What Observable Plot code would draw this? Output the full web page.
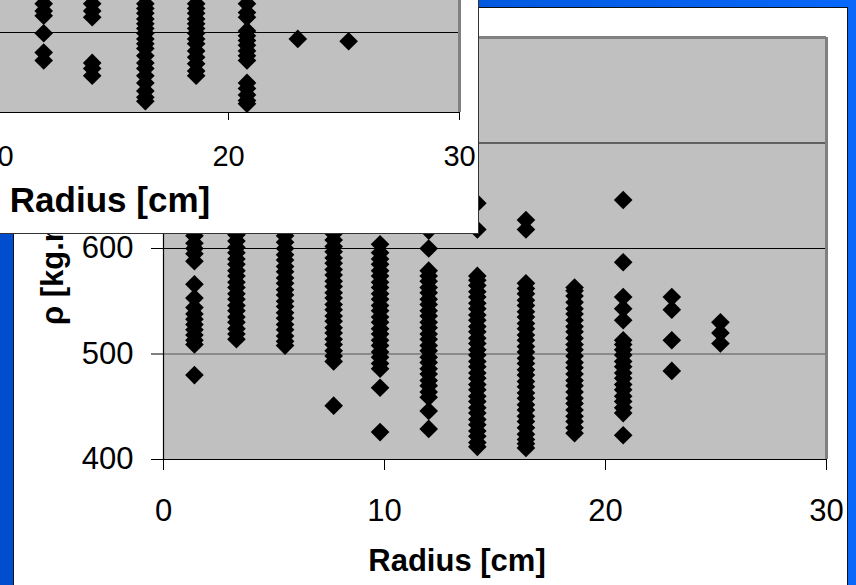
<!DOCTYPE html>
<html><head><meta charset="utf-8">
<script src="https://cdn.jsdelivr.net/npm/d3@7"></script>
<script src="https://cdn.jsdelivr.net/npm/@observablehq/plot@0.6"></script>
<style>
html,body{margin:0;padding:0;}
body{width:856px;height:585px;overflow:hidden;position:relative;background:linear-gradient(90deg,#004ecf 0%,#0057dc 50%,#0868fa 100%);font-family:"Liberation Sans",Arial,sans-serif;}
#panel{position:absolute;left:13px;top:7px;width:833px;height:600px;background:#fff;border:1px solid #111;box-sizing:content-box;}
#main{position:absolute;left:0;top:0;}
#inset{position:absolute;left:-300px;top:-160px;width:778px;height:393px;background:#fff;border-right:1px solid #333;border-bottom:1px solid #333;}
svg{overflow:visible;}
</style>
</head><body>
<div id="panel"></div>
<div id="main"></div>
<div id="inset"></div>
<script>
// ---- main chart: radius positions (cm) ----
const radius = [1.4, 3.3, 5.5, 7.7, 9.8, 12.0, 14.2, 16.4, 18.6, 20.8, 23.0, 25.2];
// density values (kg/m3) per radius
const rhoR01 = [480, 509, 513, 518, 523, 528, 533, 538, 544, 553, 566, 588, 595, 600, 605, 612, 620, 628];
const rhoR03 = [514, 519, 524, 530, 535, 541, 546, 552, 557, 563, 568, 574, 579, 585, 590, 596, 601, 607, 613, 620, 628, 636];
const rhoR05 = [508, 512, 517, 523, 528, 534, 539, 545, 550, 556, 561, 567, 572, 578, 583, 589, 594, 600, 606, 612, 619, 627, 635];
const rhoR08 = [451, 493, 498, 503, 509, 514, 520, 525, 531, 536, 542, 547, 553, 558, 564, 569, 575, 580, 586, 591, 597, 602, 608, 614, 621, 630, 640];
const rhoR10 = [426, 468, 486, 491, 497, 502, 508, 513, 519, 524, 530, 535, 541, 546, 552, 557, 563, 568, 574, 579, 585, 590, 596, 604];
const rhoR12 = [429, 446, 459, 464, 470, 475, 481, 486, 492, 497, 503, 508, 514, 519, 525, 530, 536, 541, 547, 552, 558, 563, 569, 574, 579, 600, 617];
const rhoR14 = [412, 416, 422, 427, 433, 438, 444, 449, 455, 460, 466, 471, 477, 482, 488, 493, 499, 504, 510, 515, 521, 526, 532, 537, 543, 548, 554, 559, 565, 570, 574, 618, 643];
const rhoR16 = [411, 415, 419, 424, 430, 436, 441, 447, 452, 458, 463, 469, 474, 480, 485, 491, 496, 502, 507, 513, 518, 524, 529, 535, 540, 546, 551, 557, 562, 567, 618, 627];
const rhoR19 = [425, 430, 436, 441, 447, 453, 458, 464, 470, 475, 481, 487, 492, 498, 504, 509, 515, 521, 526, 532, 538, 543, 549, 555, 560, 563];
const rhoR21 = [423, 444, 449, 455, 460, 466, 471, 477, 482, 488, 493, 499, 504, 509, 513, 532, 543, 554, 587, 646];
const rhoR23 = [484, 513, 542, 554];
const rhoR25 = [510, 520, 530];
const mainColumns = [rhoR01, rhoR03, rhoR05, rhoR08, rhoR10, rhoR12, rhoR14, rhoR16, rhoR19, rhoR21, rhoR23, rhoR25];
const yTicks = [400, 500, 600, 700, 800];
const xTicks = [0, 10, 20, 30];

// ---- inset chart (partly visible) ----
const insetRadius = [12.0, 14.1, 16.4, 18.6, 20.8, 23.0, 25.2];
const inR12 = [565, 552, 536, 527, 521, 499, 475, 465];
const inR14 = [559, 546, 536, 527, 519, 462, 455, 446];
const inR16 = [565, 555, 546, 536, 530, 524, 517, 511, 505, 499, 492, 486, 480, 471, 462, 455, 446, 437, 427, 419, 414];
const inR19 = [565, 555, 546, 536, 530, 524, 517, 511, 505, 499, 492, 486, 477, 469, 461, 452, 446];
const inR21 = [559, 546, 536, 525, 519, 502, 496, 490, 484, 477, 471, 465, 437, 430, 422, 415, 411];
const inR23 = [492];
const inR25 = [489];
const insetColumns = [inR12, inR14, inR16, inR19, inR21, inR23, inR25];

const mainData = radius.flatMap((r, i) => mainColumns[i].map(v => ({r, rho: v})));
const insetData = insetRadius.flatMap((r, i) => insetColumns[i].map(v => ({r, rho: v})));

const font = '"Liberation Sans", Arial, sans-serif';

const main = Plot.plot({
  width: 856, height: 585,
  marginLeft: 163, marginRight: 30, marginTop: 37, marginBottom: 126,
  x: {domain: [0, 30]},
  y: {domain: [400, 800]},
  style: {background: "transparent", fontFamily: font, color: "black", overflow: "visible"},
  marks: [
    Plot.frame({fill: "#c0c0c0"}),
    Plot.ruleY([600, 700], {stroke: "#000", strokeWidth: 1}),
    Plot.ruleY([500], {stroke: "#555", strokeWidth: 1}),
    Plot.ruleY([800], {stroke: "#808080", strokeWidth: 3}),
    Plot.ruleX([30], {stroke: "#808080", strokeWidth: 3}),
    Plot.dot(mainData, {x: "r", y: "rho", symbol: "diamond2", r: 8.4, fill: "black", stroke: null}),
    Plot.ruleX([0], {stroke: "#000", strokeWidth: 1.2}),
    Plot.ruleY([400], {stroke: "#000", strokeWidth: 1.2}),
    Plot.axisY({ticks: yTicks, tickSize: 12, tickPadding: 18, fontSize: 31, label: null, tickFormat: d => String(d)}),
    Plot.axisX({ticks: xTicks, tickSize: 11, tickPadding: 28, fontSize: 31, label: null, tickFormat: d => String(d)}),
    Plot.text(["Radius [cm]"], {text: d => d, frameAnchor: "bottom", dx: -38, dy: 89, textAnchor: "middle", lineAnchor: "top", fontSize: 31, fontWeight: "bold"}),
    Plot.text(["ρ [kg.m⁻³]"], {text: d => d, frameAnchor: "left", rotate: -90, dx: -110, dy: 6, textAnchor: "middle", lineAnchor: "middle", fontSize: 31, fontWeight: "bold"})
  ]
});
document.getElementById("main").appendChild(main);

const inset = Plot.plot({
  width: 778, height: 393,
  marginLeft: 66, marginRight: 19, marginTop: 32, marginBottom: 121,
  x: {domain: [0, 30]},
  y: {domain: [400, 700], axis: null},
  style: {background: "transparent", fontFamily: font, color: "black", overflow: "visible"},
  marks: [
    Plot.frame({fill: "#c0c0c0"}),
    Plot.ruleY([500, 600], {stroke: "#000", strokeWidth: 1}),
    Plot.ruleX([30], {stroke: "#808080", strokeWidth: 3}),
    Plot.dot(insetData, {x: "r", y: "rho", symbol: "diamond2", r: 8.4, fill: "black", stroke: null}),
    Plot.ruleY([400], {stroke: "#000", strokeWidth: 1.2}),
    Plot.axisX({ticks: xTicks, tickSize: 8, tickPadding: 25, fontSize: 29, label: null, tickFormat: d => String(d)}),
    Plot.text(["Radius [cm]"], {text: d => d, frameAnchor: "bottom", dx: -3, dy: 75, textAnchor: "middle", lineAnchor: "top", fontSize: 35, fontWeight: "bold"})
  ]
});
document.getElementById("inset").appendChild(inset);
</script>
</body></html>
